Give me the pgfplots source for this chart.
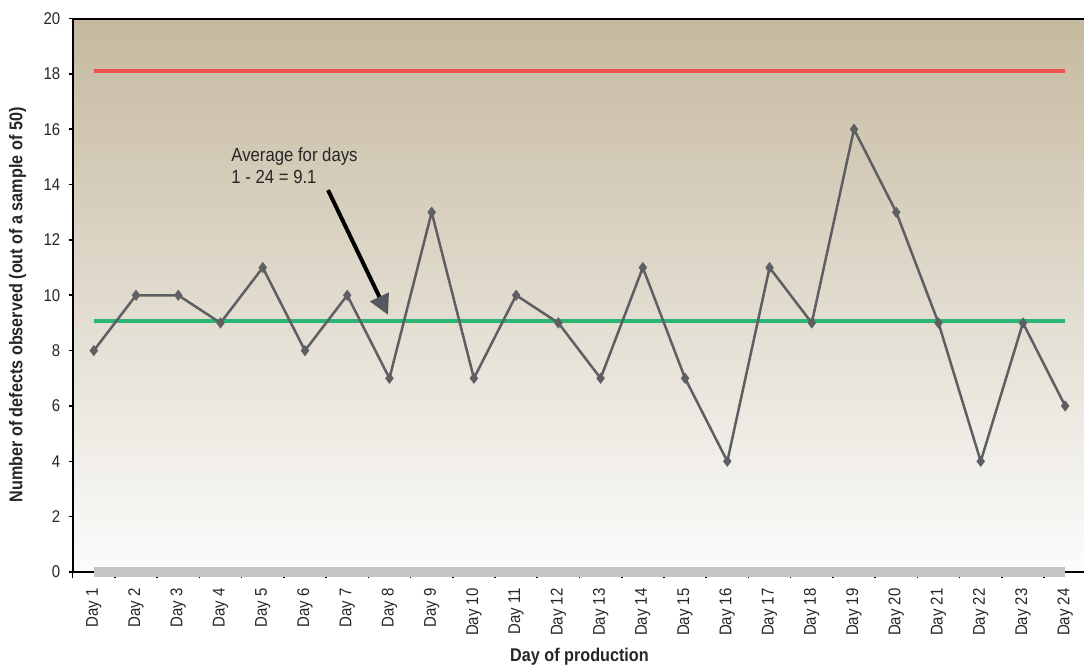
\documentclass[border=0pt]{standalone}
\usepackage{fontspec}
\setmainfont{Liberation Sans}[FakeStretch=0.88]
\usepackage{pgfplots}
\pgfplotsset{compat=1.18}
\usetikzlibrary{arrows.meta}

\definecolor{bgtop}{HTML}{C5B99F}
\definecolor{bgbot}{HTML}{FCFCFC}
\definecolor{ucl}{HTML}{F05252}
\definecolor{avg}{HTML}{2BB673}
\definecolor{series}{HTML}{5E5F63}
\definecolor{base}{HTML}{C5C5C8}
\definecolor{headc}{HTML}{55565E}

\begin{document}
\begin{tikzpicture}
\begin{axis}[
  scale only axis,
  width=506.8pt, height=276.75pt,
  xmin=0.5, xmax=24.5,
  ymin=0, ymax=20,
  clip=false,
  axis background/.style={top color=bgtop, bottom color=bgbot},
  axis line style={black, line width=1pt},
  xtick={1,...,24},
  xticklabels={Day 1,Day 2,Day 3,Day 4,Day 5,Day 6,Day 7,Day 8,Day 9,Day 10,Day 11,Day 12,
               Day 13,Day 14,Day 15,Day 16,Day 17,Day 18,Day 19,Day 20,Day 21,Day 22,Day 23,Day 24},
  major x tick style={draw=none},
  minor xtick={0.5,1.5,...,23.5},
  minor x tick style={black, line width=0.8pt},
  minor tick length=3.2pt,
  ytick={0,2,...,20},
  major y tick style={black, line width=0.8pt},
  major tick length=2pt,
  tick align=outside,
  xtick pos=bottom, ytick pos=left,
  /pgf/number format/assume math mode=true,
  ticklabel style={font=\fontsize{8.5}{10}\selectfont, text=black!85},
  xticklabel style={rotate=90, anchor=east, inner sep=0pt},
  xticklabel shift=6pt,
  yticklabel style={inner sep=0pt, xshift=-4pt},
]
  % zero baseline band
  \addplot[base, line width=5pt, line cap=butt] coordinates {(1,0) (24,0)};
  % upper control limit
  \addplot[ucl, line width=2pt] coordinates {(1,18.1) (24,18.1)};
  % average of days 1-24
  \addplot[avg, line width=2pt] coordinates {(1,9.08) (24,9.08)};
  % defects per day
  \addplot[series, line width=1.25pt, mark=diamond*, mark size=1.8pt,
           mark options={fill=series, draw=series}] coordinates {
    (1,8) (2,10) (3,10) (4,9) (5,11) (6,8) (7,10) (8,7) (9,13) (10,7)
    (11,10) (12,9) (13,7) (14,11) (15,7) (16,4) (17,11) (18,9) (19,16)
    (20,13) (21,9) (22,4) (23,9) (24,6)};
  % annotation
  \node[anchor=base west, inner sep=0pt, font=\fontsize{9.5}{11}\selectfont, text=black!85]
    at (axis cs:4.25,14.85) {Average for days};
  \node[anchor=base west, inner sep=0pt, font=\fontsize{9.5}{11}\selectfont, text=black!85]
    at (axis cs:4.25,14.05) {1 - 24 = 9.1};
  \draw[black, line width=2pt, -{Triangle[length=10pt, width=10pt, color=headc]}]
    (axis cs:6.546,13.80) -- (axis cs:7.967,9.29);
  \coordinate (SW) at (rel axis cs:0,0);
  % axis titles
  \node[font=\bfseries\fontsize{9.2}{11}\selectfont, text=black!85]
    at ([xshift=253.4pt, yshift=-42.5pt]SW) {Day of production};
  \node[font=\bfseries\fontsize{9.2}{11}\selectfont, text=black!85, rotate=90]
    at ([xshift=-27.6pt, yshift=133.5pt]SW) {Number of defects observed (out of a sample of 50)};
\end{axis}
\pgfresetboundingbox
\path[use as bounding box] ([xshift=-36.35pt, yshift=-47pt]SW) rectangle ++(542pt,333pt);
\end{tikzpicture}
\end{document}
